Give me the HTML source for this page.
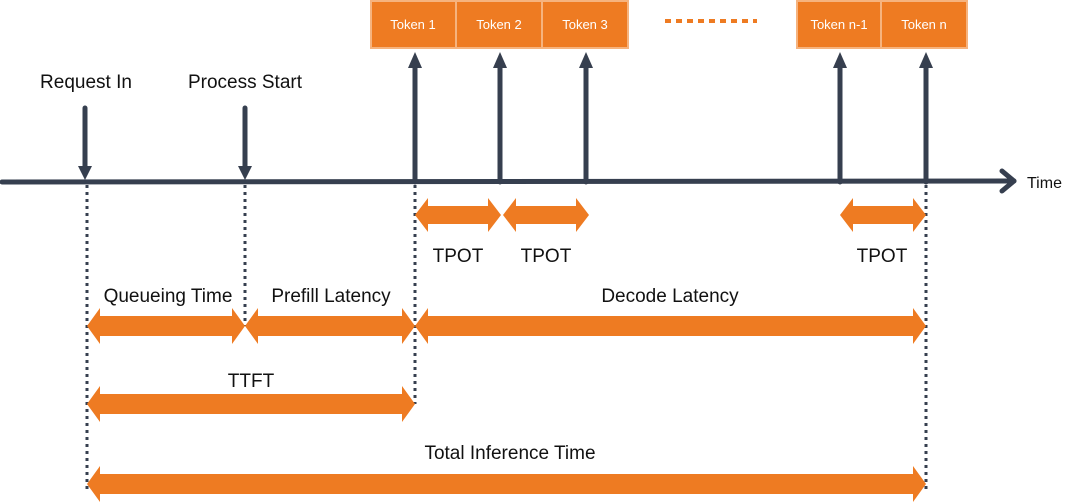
<!DOCTYPE html>
<html><head><meta charset="utf-8"><style>
html,body{margin:0;padding:0;background:#fff;}
svg{display:block;}
text{font-family:"Liberation Sans",sans-serif;fill:#111;}
</style></head><body>
<svg width="1080" height="503" viewBox="0 0 1080 503" xmlns="http://www.w3.org/2000/svg">
<g fill="#ee7b22" stroke="#f6b37e" stroke-width="2">
<rect x="371" y="1" width="85" height="47"/>
<rect x="456" y="1" width="86" height="47"/>
<rect x="542" y="1" width="86" height="47"/>
<rect x="797" y="1" width="84" height="47"/>
<rect x="881" y="1" width="86" height="47"/>
</g>
<g font-size="13" text-anchor="middle">
<text x="413" y="29" style="fill:#fff">Token 1</text>
<text x="499" y="29" style="fill:#fff">Token 2</text>
<text x="585" y="29" style="fill:#fff">Token 3</text>
<text x="839" y="29" style="fill:#fff">Token n-1</text>
<text x="924" y="29" style="fill:#fff">Token n</text>
</g>
<line x1="665" y1="21" x2="757" y2="21" stroke="#ee7b22" stroke-width="4" stroke-dasharray="6,5"/>
<g stroke="#363f4f" stroke-width="3" stroke-dasharray="3,4">
<line x1="87" y1="185" x2="87" y2="490"/>
<line x1="245" y1="185" x2="245" y2="326"/>
<line x1="415" y1="185" x2="415" y2="404"/>
<line x1="926" y1="185" x2="926" y2="490"/>
</g>
<g stroke="#363f4f" stroke-width="5" fill="none" stroke-linecap="round" stroke-linejoin="round">
<line x1="2" y1="182" x2="1014" y2="181"/>
<polyline points="1002,171 1014,181 1002,191"/>
<line x1="85" y1="108" x2="85" y2="168"/>
<line x1="245" y1="108" x2="245" y2="168"/>
<line x1="415" y1="182" x2="415" y2="66"/>
<line x1="500" y1="182" x2="500" y2="66"/>
<line x1="586" y1="182" x2="586" y2="66"/>
<line x1="840" y1="182" x2="840" y2="66"/>
<line x1="926" y1="182" x2="926" y2="66"/>
</g>
<g fill="#363f4f">
<polygon points="78,166 92,166 85,180"/>
<polygon points="238,166 252,166 245,180"/>
<polygon points="408,68 422,68 415,52"/>
<polygon points="493,68 507,68 500,52"/>
<polygon points="579,68 593,68 586,52"/>
<polygon points="833,68 847,68 840,52"/>
<polygon points="919,68 933,68 926,52"/>
</g>
<g fill="#ee7b22">
<polygon points="87,326 100,308 100,316 232,316 232,308 245,326 232,344 232,336 100,336 100,344"/>
<polygon points="245,326 258,308 258,316 402,316 402,308 415,326 402,344 402,336 258,336 258,344"/>
<polygon points="415,326 428,308 428,316 913,316 913,308 926,326 913,344 913,336 428,336 428,344"/>
<polygon points="87,404 100,386 100,394 402,394 402,386 415,404 402,422 402,414 100,414 100,422"/>
<polygon points="87,484 100,466 100,474 913,474 913,466 926,484 913,502 913,494 100,494 100,502"/>
<polygon points="415,215 428,198 428,206 488,206 488,198 501,215 488,232 488,224 428,224 428,232"/>
<polygon points="503,215 516,198 516,206 576,206 576,198 589,215 576,232 576,224 516,224 516,232"/>
<polygon points="840,215 853,198 853,206 913,206 913,198 926,215 913,232 913,224 853,224 853,232"/>
</g>
<g font-size="19" text-anchor="middle">
<text x="86" y="88">Request In</text>
<text x="245" y="88">Process Start</text>
<text x="458" y="262">TPOT</text>
<text x="546" y="262">TPOT</text>
<text x="882" y="262">TPOT</text>
<text x="168" y="302">Queueing Time</text>
<text x="331" y="302">Prefill Latency</text>
<text x="670" y="302">Decode Latency</text>
<text x="251" y="387">TTFT</text>
<text x="510" y="459">Total Inference Time</text>
</g>
<text x="1027" y="188" font-size="16">Time</text>
</svg>
</body></html>
